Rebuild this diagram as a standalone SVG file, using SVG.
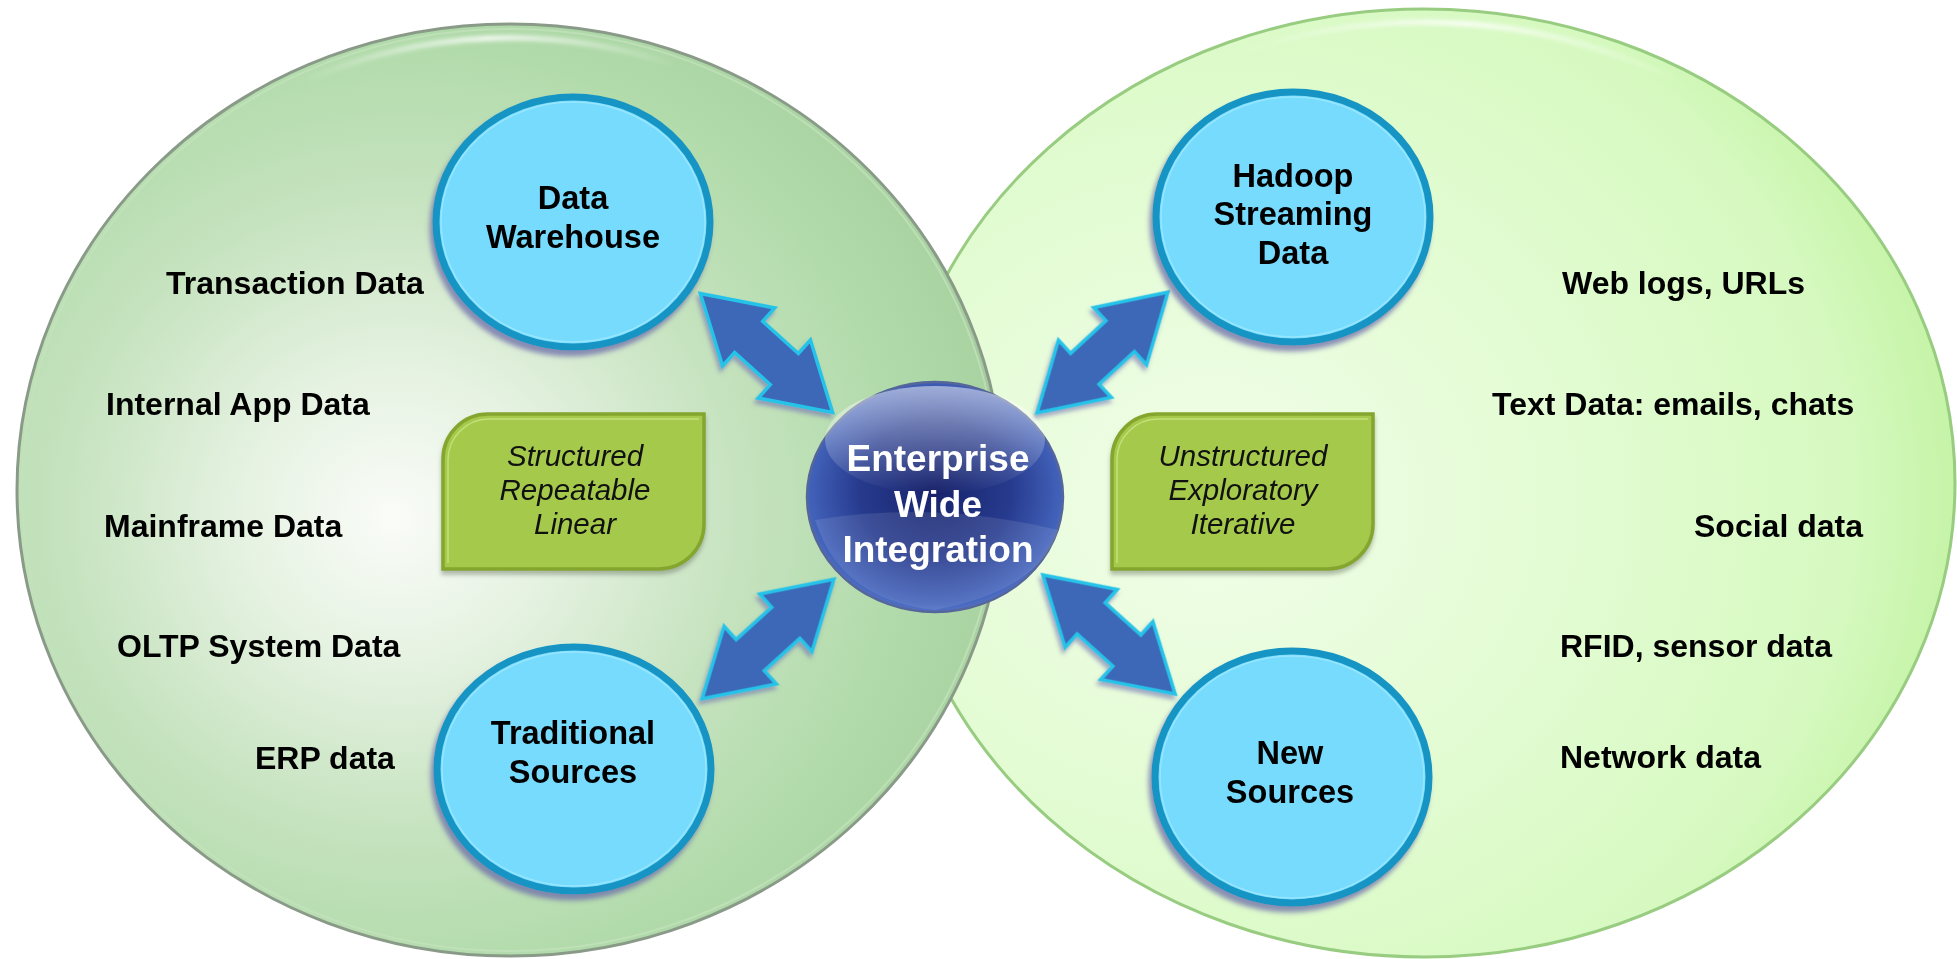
<svg xmlns="http://www.w3.org/2000/svg" width="1957" height="959" viewBox="0 0 1957 959">
<defs>
<radialGradient id="gLeft" cx="0.40" cy="0.52" r="0.62" fx="0.38" fy="0.53">
<stop offset="0" stop-color="#fafcf8"/>
<stop offset="0.25" stop-color="#e6f2e2"/>
<stop offset="0.55" stop-color="#c6e3bf"/>
<stop offset="0.8" stop-color="#b2dbab"/>
<stop offset="0.96" stop-color="#a9d4a2"/>
<stop offset="1" stop-color="#90a88d"/>
</radialGradient>
<radialGradient id="gRight" cx="0.30" cy="0.52" r="0.75" fx="0.30" fy="0.52">
<stop offset="0" stop-color="#f1fde9"/>
<stop offset="0.45" stop-color="#e3fcd3"/>
<stop offset="0.8" stop-color="#d6f9c0"/>
<stop offset="0.93" stop-color="#c6f4a8"/>
<stop offset="1" stop-color="#a6dc86"/>
</radialGradient>
<radialGradient id="gBlue" cx="0.5" cy="0.47" r="0.6">
<stop offset="0" stop-color="#17226a"/>
<stop offset="0.5" stop-color="#273b8e"/>
<stop offset="0.82" stop-color="#4262ba"/>
<stop offset="1" stop-color="#7290dc"/>
</radialGradient>
<linearGradient id="gGloss" x1="0" y1="0" x2="0" y2="1">
<stop offset="0" stop-color="#ffffff" stop-opacity="0.5"/>
<stop offset="1" stop-color="#ffffff" stop-opacity="0"/>
</linearGradient>
<linearGradient id="gShineL" gradientUnits="userSpaceOnUse" x1="300" y1="0" x2="680" y2="0">
<stop offset="0" stop-color="#ffffff" stop-opacity="0"/>
<stop offset="0.5" stop-color="#ffffff" stop-opacity="0.9"/>
<stop offset="1" stop-color="#ffffff" stop-opacity="0"/>
</linearGradient>
<linearGradient id="gShineR" gradientUnits="userSpaceOnUse" x1="1240" y1="0" x2="1690" y2="0">
<stop offset="0" stop-color="#ffffff" stop-opacity="0"/>
<stop offset="0.5" stop-color="#ffffff" stop-opacity="0.9"/>
<stop offset="1" stop-color="#ffffff" stop-opacity="0"/>
</linearGradient>
<filter id="blur2" x="-10%" y="-50%" width="120%" height="200%"><feGaussianBlur stdDeviation="2"/></filter>
<filter id="shNode" x="-20%" y="-20%" width="140%" height="140%"><feDropShadow dx="-3" dy="6" stdDeviation="2.5" flood-color="#6a6aa8" flood-opacity="0.75"/></filter>
<filter id="shArrow" x="-20%" y="-20%" width="140%" height="140%"><feDropShadow dx="-2" dy="4" stdDeviation="2" flood-color="#7070b0" flood-opacity="0.6"/></filter>
<filter id="shBox" x="-10%" y="-10%" width="120%" height="125%"><feDropShadow dx="0" dy="4" stdDeviation="2" flood-color="#6d7a66" flood-opacity="0.5"/></filter>
<path id="dblArrow" d="M-89,0 L-24,-39 L-24,-21 L24,-21 L24,-39 L89,0 L24,39 L24,21 L-24,21 L-24,39 Z"/>
<style>
.lbl{font-family:"Liberation Sans",Arial,sans-serif;font-weight:bold;font-size:32px;fill:#000}
.nodeTxt{font-family:"Liberation Sans",Arial,sans-serif;font-weight:bold;font-size:32.5px;fill:#000;text-anchor:middle}
.boxTxt{font-family:"Liberation Sans",Arial,sans-serif;font-style:italic;font-size:29.5px;fill:#111;text-anchor:middle}
.hub{font-family:"Liberation Sans",Arial,sans-serif;font-weight:bold;font-size:37px;fill:#fff;text-anchor:middle}
.cyan{fill:#76dbfd;stroke:#1594c4;stroke-width:7}
.cyanIn{fill:none;stroke:#9fe8ff;stroke-width:1.5;opacity:0.8}
.arrow{fill:#3c68b8;stroke:#27c3e8;stroke-width:3.5;stroke-linejoin:miter}
.box{fill:#a5c94b;stroke:#84a52e;stroke-width:3.5}
.boxIn{fill:none;stroke:#c3e07a;stroke-width:1.5}
</style>
</defs>

<g id="region-new">
<ellipse cx="1424" cy="483" rx="531" ry="474" fill="url(#gRight)" stroke="#98cc80" stroke-width="3"/>
<path d="M1247,50 A518,461 0 0 1 1683,84" fill="none" stroke="url(#gShineR)" stroke-width="5" filter="url(#blur2)"/>
</g>
<g id="region-traditional">
<ellipse cx="510" cy="490" rx="493" ry="466" fill="url(#gLeft)" stroke="#8a9a88" stroke-width="3"/>
<ellipse cx="510" cy="490" rx="488" ry="461" fill="none" stroke="#c4e2bd" stroke-width="2" opacity="0.7"/>
<path d="M307,80 A480,452 0 0 1 674,65" fill="none" stroke="url(#gShineL)" stroke-width="5" filter="url(#blur2)"/>
</g>

<g id="connectors" filter="url(#shArrow)">
<use href="#dblArrow" class="arrow" transform="translate(766.5,353) rotate(42)"/>
<use href="#dblArrow" class="arrow" transform="translate(768,639) rotate(-42.2)"/>
<use href="#dblArrow" class="arrow" transform="translate(1102.5,352.5) rotate(-42.7)"/>
<use href="#dblArrow" class="arrow" transform="translate(1109,634.5) rotate(42)"/>
</g>

<g id="box-structured">
<path class="box" filter="url(#shBox)" d="M443,569 L443,459 A45,45 0 0 1 488,414 L704,414 L704,524 A45,45 0 0 1 659,569 Z"/>
<path class="boxIn" d="M448,563 L448,460 A41,41 0 0 1 489,419 L699,419"/>
<text class="boxTxt" x="575" y="466">Structured</text>
<text class="boxTxt" x="575" y="500">Repeatable</text>
<text class="boxTxt" x="575" y="534">Linear</text>
</g>

<g id="box-unstructured">
<path class="box" filter="url(#shBox)" d="M1112,569 L1112,459 A45,45 0 0 1 1157,414 L1373,414 L1373,524 A45,45 0 0 1 1328,569 Z"/>
<path class="boxIn" d="M1117,563 L1117,460 A41,41 0 0 1 1158,419 L1368,419"/>
<text class="boxTxt" x="1243" y="466">Unstructured</text>
<text class="boxTxt" x="1243" y="500">Exploratory</text>
<text class="boxTxt" x="1243" y="534">Iterative</text>
</g>

<g id="node-data-warehouse">
<ellipse class="cyan" cx="573" cy="222" rx="137" ry="125" filter="url(#shNode)"/>
<ellipse class="cyanIn" cx="573" cy="222" rx="132" ry="120"/>
<text class="nodeTxt" x="573" y="209">Data</text>
<text class="nodeTxt" x="573" y="248">Warehouse</text>
</g>

<g id="node-traditional-sources">
<ellipse class="cyan" cx="574" cy="769" rx="137" ry="122" filter="url(#shNode)"/>
<ellipse class="cyanIn" cx="574" cy="769" rx="132" ry="117"/>
<text class="nodeTxt" x="573" y="744">Traditional</text>
<text class="nodeTxt" x="573" y="783">Sources</text>
</g>

<g id="node-hadoop">
<ellipse class="cyan" cx="1293" cy="217" rx="137" ry="125" filter="url(#shNode)"/>
<ellipse class="cyanIn" cx="1293" cy="217" rx="132" ry="120"/>
<text class="nodeTxt" x="1293" y="187">Hadoop</text>
<text class="nodeTxt" x="1293" y="225">Streaming</text>
<text class="nodeTxt" x="1293" y="264">Data</text>
</g>

<g id="node-new-sources">
<ellipse class="cyan" cx="1292" cy="777" rx="137" ry="126" filter="url(#shNode)"/>
<ellipse class="cyanIn" cx="1292" cy="777" rx="132" ry="121"/>
<text class="nodeTxt" x="1290" y="764">New</text>
<text class="nodeTxt" x="1290" y="803">Sources</text>
</g>

<g id="node-enterprise">
<ellipse cx="935" cy="497" rx="128" ry="115" fill="url(#gBlue)" stroke="#55669a" stroke-width="2.5"/>
<ellipse cx="935" cy="440" rx="110" ry="54" fill="url(#gGloss)"/>
<path d="M815,520 Q935,500 1058,530 Q1040,590 935,610 Q840,600 815,520 Z" fill="#ffffff" opacity="0.10"/>
<text class="hub" x="938" y="471">Enterprise</text>
<text class="hub" x="938" y="517">Wide</text>
<text class="hub" x="938" y="562">Integration</text>
</g>

<g id="labels-traditional">
<text class="lbl" x="166" y="294">Transaction Data</text>
<text class="lbl" x="106" y="415">Internal App Data</text>
<text class="lbl" x="104" y="537">Mainframe Data</text>
<text class="lbl" x="117" y="657">OLTP System Data</text>
<text class="lbl" x="255" y="769">ERP data</text>
</g>

<g id="labels-new">
<text class="lbl" x="1562" y="294">Web logs, URLs</text>
<text class="lbl" x="1492" y="415">Text Data: emails, chats</text>
<text class="lbl" x="1694" y="537">Social data</text>
<text class="lbl" x="1560" y="657">RFID, sensor data</text>
<text class="lbl" x="1560" y="768">Network data</text>
</g>
</svg>
